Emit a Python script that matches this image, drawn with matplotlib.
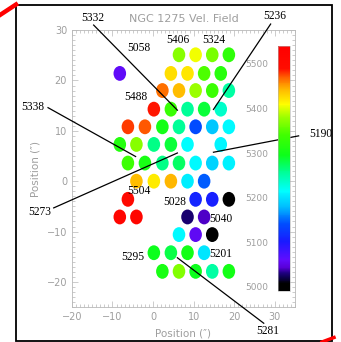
import matplotlib
matplotlib.use("Agg")
import matplotlib.pyplot as plt
from matplotlib.colors import LinearSegmentedColormap, Normalize
from matplotlib.patches import Ellipse, Rectangle
from matplotlib.lines import Line2D
from matplotlib.ticker import MultipleLocator
import matplotlib.cm as cm

# fibre positions (arcsec) and measured velocities (km/s)
dot_x = [6.4, 10.5, 14.6, 18.7,
         -8.2, 4.4, 8.5, 12.6, 16.7,
         2.3, 6.4, 10.5, 14.6, 18.7,
         0.2, 4.4, 8.5, 12.6, 16.7,
         -6.2, -2.0, 2.3, 6.4, 10.5, 14.6, 18.7,
         -8.2, -4.1, 0.2, 4.4, 8.5, 16.7,
         -6.2, -2.0, 2.3, 6.4, 10.5, 14.6, 18.7,
         -4.1, 0.2, 4.4, 8.5, 12.6,
         -6.2, 10.5, 14.6, 18.7,
         -8.2, -4.1, 8.5, 12.6,
         6.4, 10.5, 14.6,
         0.2, 4.4, 8.5, 12.6,
         2.3, 6.4, 10.5, 14.6, 18.7]
dot_y = [25.1] * 4 + [21.4] * 5 + [18.0] * 5 + [14.3] * 5 + [10.8] * 7 + \
        [7.3] * 6 + [3.6] * 7 + [0.0] * 5 + [-3.6] * 4 + [-7.1] * 4 + \
        [-10.6] * 3 + [-14.2] * 4 + [-17.9] * 5
velocity = [5372, 5406, 5365, 5324,
            5058, 5425, 5420, 5345, 5318,
            5465, 5440, 5380, 5335, 5250,
            5488, 5332, 5255, 5285, 5236,
            5478, 5472, 5300, 5255, 5140, 5185, 5212,
            5315, 5372, 5262, 5285, 5215, 5210,
            5338, 5305, 5262, 5273, 5212, 5190, 5208,
            5440, 5418, 5442, 5205, 5145,
            5504, 5110, 5105, 4995,
            5520, 5515, 5028, 5040,
            5212, 5055, 4998,
            5295, 5281, 5300, 5201,
            5305, 5370, 5295, 5250, 5300]

vel_min, vel_max = 4990, 5540
cbar_ticks = [5000, 5100, 5200, 5300, 5400, 5500]

# labelled velocities: text, text position, optional pointer line (start, end)
labels = [
    ("5332", (-14.85, 32.5), ((-14.65, 31.0), (6.0, 14.1))),
    ("5058", (-3.5, 26.5), None),
    ("5406", (6.1, 28.0), None),
    ("5324", (15.0, 28.0), None),
    ("5236", (29.9, 32.7), ((29.0, 31.2), (14.9, 14.25))),
    ("5488", (-4.2, 16.7), None),
    ("5338", (-29.7, 14.7), ((-25.9, 14.6), (-4.3, 4.9))),
    ("5190", (41.3, 9.35), ((35.9, 9.0), (14.9, 5.75))),
    ("5273", (-27.9, -6.1), ((-24.5, -5.3), (6.0, 5.6))),
    ("5504", (-3.5, -2.0), None),
    ("5028", (5.4, -4.1), None),
    ("5040", (16.7, -7.5), None),
    ("5201", (16.7, -14.5), None),
    ("5295", (-5.1, -15.1), None),
    ("5281", (28.2, -29.7), ((27.3, -28.2), (6.0, -15.2))),
]

# IDL-style rainbow with black at the low end
anchors = [(4990, (0, 0, 0)), (5005, (0, 0, 0)), (5020, (0.05, 0, 0.3)),
           (5030, (0.12, 0, 0.5)), (5042, (0.35, 0, 0.85)), (5060, (0.38, 0.05, 1)),
           (5100, (0.1, 0.1, 1)), (5140, (0, 0.3, 1)), (5180, (0, 0.75, 1)),
           (5215, (0, 1, 1)), (5260, (0, 1, 0.55)), (5295, (0.05, 1, 0.1)),
           (5340, (0.25, 1, 0)), (5380, (0.6, 1, 0)), (5410, (1, 1, 0)),
           (5440, (1, 0.75, 0)), (5470, (1, 0.4, 0)), (5490, (1, 0.05, 0)),
           (5540, (1, 0, 0))]
cmap = LinearSegmentedColormap.from_list(
    "idl_rainbow", [((v - vel_min) / (vel_max - vel_min), c) for v, c in anchors])
norm = Normalize(vel_min, vel_max)

grey = "0.62"
fig = plt.figure(figsize=(3.41, 3.42), dpi=100)
ax = fig.add_axes([0.211, 0.102, 0.654, 0.810])
ax.set_xlim(-20, 35)
ax.set_ylim(-25, 30)

for x, y, v in zip(dot_x, dot_y, velocity):
    ax.add_patch(Ellipse((x, y), 3.1, 2.95, facecolor=cmap(norm(v)), edgecolor="none", zorder=2))

for s in ax.spines.values():
    s.set_color("0.72")
    s.set_linewidth(0.6)
ax.xaxis.set_major_locator(MultipleLocator(10))
ax.yaxis.set_major_locator(MultipleLocator(10))
ax.xaxis.set_minor_locator(MultipleLocator(1))
ax.yaxis.set_minor_locator(MultipleLocator(1))
ax.tick_params(which="both", direction="in", top=True, right=True, color="0.72",
               labelcolor=grey, labelsize=7, width=0.5)
ax.tick_params(which="major", length=4)
ax.tick_params(which="minor", length=2)
ax.set_xticks([-20, -10, 0, 10, 20, 30])
ax.set_xticklabels(["\u221220", "\u221210", "0", "10", "20", "30"])
ax.set_xlabel("Position (\u2033)", color=grey, fontsize=7.5)
ax.set_ylabel("Position (\u2033)", color=grey, fontsize=7.5)
ax.xaxis.set_label_coords(0.5, -0.076)
ax.yaxis.set_label_coords(-0.139, 0.5)
ax.set_title("NGC 1275 Vel. Field", color=grey, fontsize=8, pad=6)

for text, txy, line in labels:
    ax.text(txy[0], txy[1], text, ha="center", va="center", fontsize=8.3,
            family="Liberation Serif", color="black", clip_on=False, zorder=4)
    if line is not None:
        (x0, y0), (x1, y1) = line
        ax.plot([x0, x1], [y0, y1], color="black", lw=0.9, clip_on=False, zorder=3)

cax = fig.add_axes([0.815, 0.149, 0.035, 0.716])
cb = fig.colorbar(cm.ScalarMappable(norm=norm, cmap=cmap), cax=cax)
cb.outline.set_edgecolor("0.7")
cb.outline.set_linewidth(0.4)
cb.set_ticks(cbar_ticks)
cax.yaxis.set_ticks_position("left")
cax.tick_params(length=0, pad=7, labelsize=6.5, labelcolor=grey)

# outer frame and the red marks on its corners
fig.add_artist(Rectangle((15.8 / 341, 1.2 / 342), (332 - 15.8) / 341, (337.5 - 1.2) / 342,
                         transform=fig.transFigure, fill=False, edgecolor="black", lw=1.3))
fig.add_artist(Line2D([0, 16 / 341], [1 - 15 / 342, 1 - 4.5 / 342],
                      transform=fig.transFigure, color="red", lw=3.2))
fig.add_artist(Line2D([322 / 341, 334 / 341], [0, 4.5 / 342],
                      transform=fig.transFigure, color="red", lw=2.5))

fig.savefig("out.png", dpi=100)
